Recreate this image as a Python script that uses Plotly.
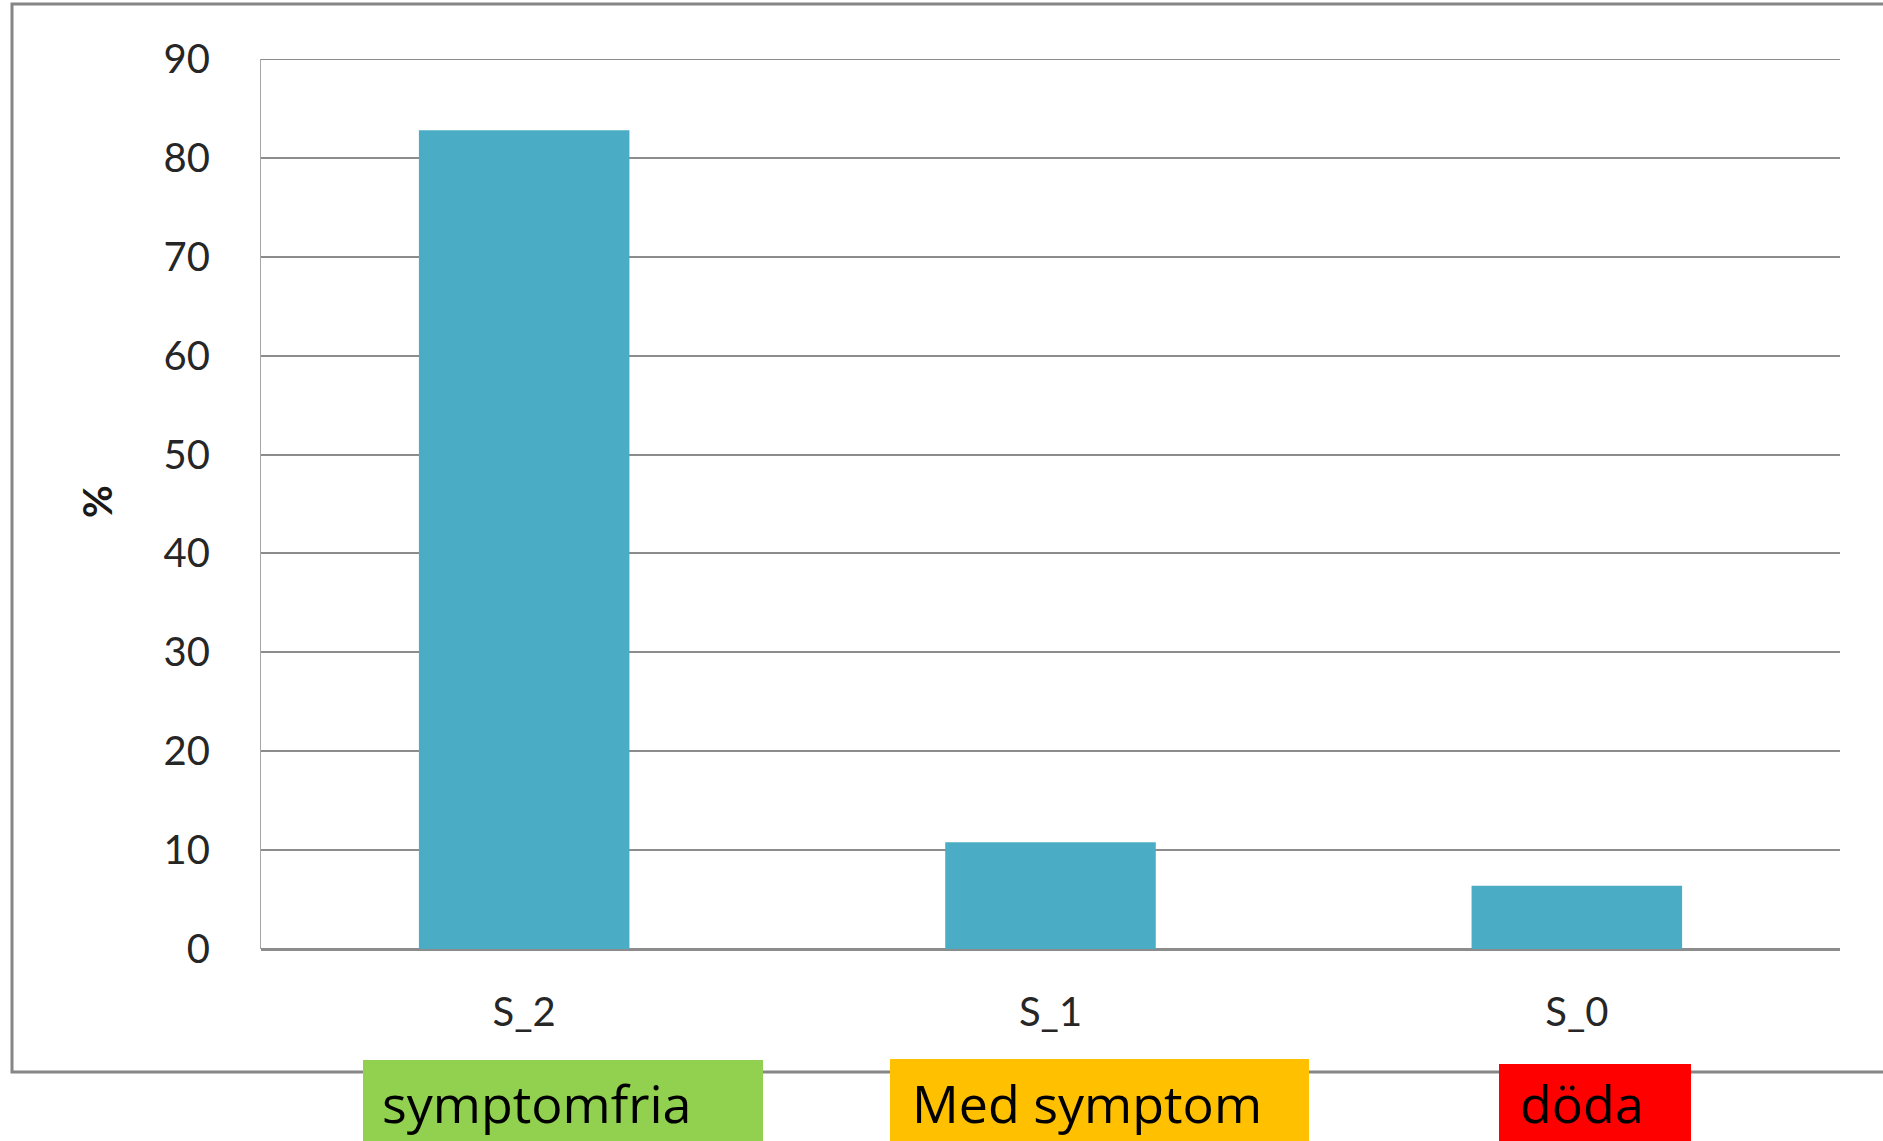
import plotly.graph_objects as go

# Outcome groups and share of patients (%)
categories = ["S_2", "S_1", "S_0"]
percent = [82.8, 10.8, 6.4]
y_ticks = [0, 10, 20, 30, 40, 50, 60, 70, 80, 90]

# Coloured outcome labels shown under the axis
outcome_labels = ["symptomfria", "Med symptom", "döda"]
outcome_colors = ["#92D050", "#FFC000", "#FF0000"]

W, H = 1883, 1141
ML, MR, MT, MB = 261, 43, 59, 192
PW, PH = W - ML - MR, H - MT - MB


def px_x(x):
    """Pixel column -> paper x."""
    return (x - ML) / PW


def px_y(y):
    """Pixel row -> paper y."""
    return (H - MB - y) / PH


fig = go.Figure(
    go.Bar(
        x=categories,
        y=percent,
        marker=dict(color="#4BACC6", line=dict(width=0)),
        hoverinfo="x+y",
    )
)

shapes = [
    # outer chart frame
    dict(type="rect", xref="paper", yref="paper",
         x0=px_x(12), x1=px_x(W + 20), y0=px_y(1072), y1=px_y(4),
         line=dict(color="#868686", width=3), fillcolor="rgba(0,0,0,0)",
         layer="below"),
    # gridline at the top of the value axis
    dict(type="line", xref="paper", yref="y",
         x0=0, x1=1, y0=y_ticks[-1], y1=y_ticks[-1],
         line=dict(color="#8c8c8c", width=2), layer="below"),
]

# label boxes: (left, right, top) in pixels
boxes = [(363, 763, 1060), (890, 1309, 1059), (1499, 1691, 1064)]
text_left = [380, 910, 1518]
annotations = []
for (x0, x1, y0), col, lab, tx in zip(boxes, outcome_colors, outcome_labels, text_left):
    shapes.append(dict(type="rect", xref="paper", yref="paper",
                       x0=px_x(x0), x1=px_x(x1), y0=px_y(H + 5), y1=px_y(y0),
                       line=dict(width=0), fillcolor=col, layer="above"))
    annotations.append(dict(text=lab, xref="paper", yref="paper",
                            x=px_x(tx), y=px_y(1102), xanchor="left", yanchor="middle",
                            showarrow=False,
                            font=dict(family="Open Sans", size=52, color="black")))

annotations.append(dict(text="<b>%</b>", xref="paper", yref="paper",
                        x=px_x(97), y=px_y(502), xanchor="center", yanchor="middle",
                        textangle=-90, showarrow=False,
                        font=dict(family="Lato", size=40, color="#1a1a1a")))

fig.update_layout(
    width=W, height=H,
    margin=dict(l=ML, r=MR, t=MT, b=MB, pad=0),
    paper_bgcolor="white", plot_bgcolor="white",
    bargap=0.6,
    showlegend=False,
    shapes=shapes,
    annotations=annotations,
    font=dict(family="Lato", color="#262626"),
    xaxis=dict(
        showgrid=False, zeroline=False,
        showline=False, ticks="",
        tickfont=dict(size=40, family="Lato", color="#262626"),
        ticklabelstandoff=36,
    ),
    yaxis=dict(
        range=[0, 90], tickvals=y_ticks,
        showgrid=True, gridcolor="#8c8c8c", gridwidth=2,
        zeroline=True, zerolinecolor="#8c8c8c", zerolinewidth=3,
        showline=True, linecolor="#a6a6a6", linewidth=1,
        ticks="",
        tickfont=dict(size=40, family="Lato", color="#262626"),
        ticklabelstandoff=42,
    ),
)

fig.write_html("out.html")
